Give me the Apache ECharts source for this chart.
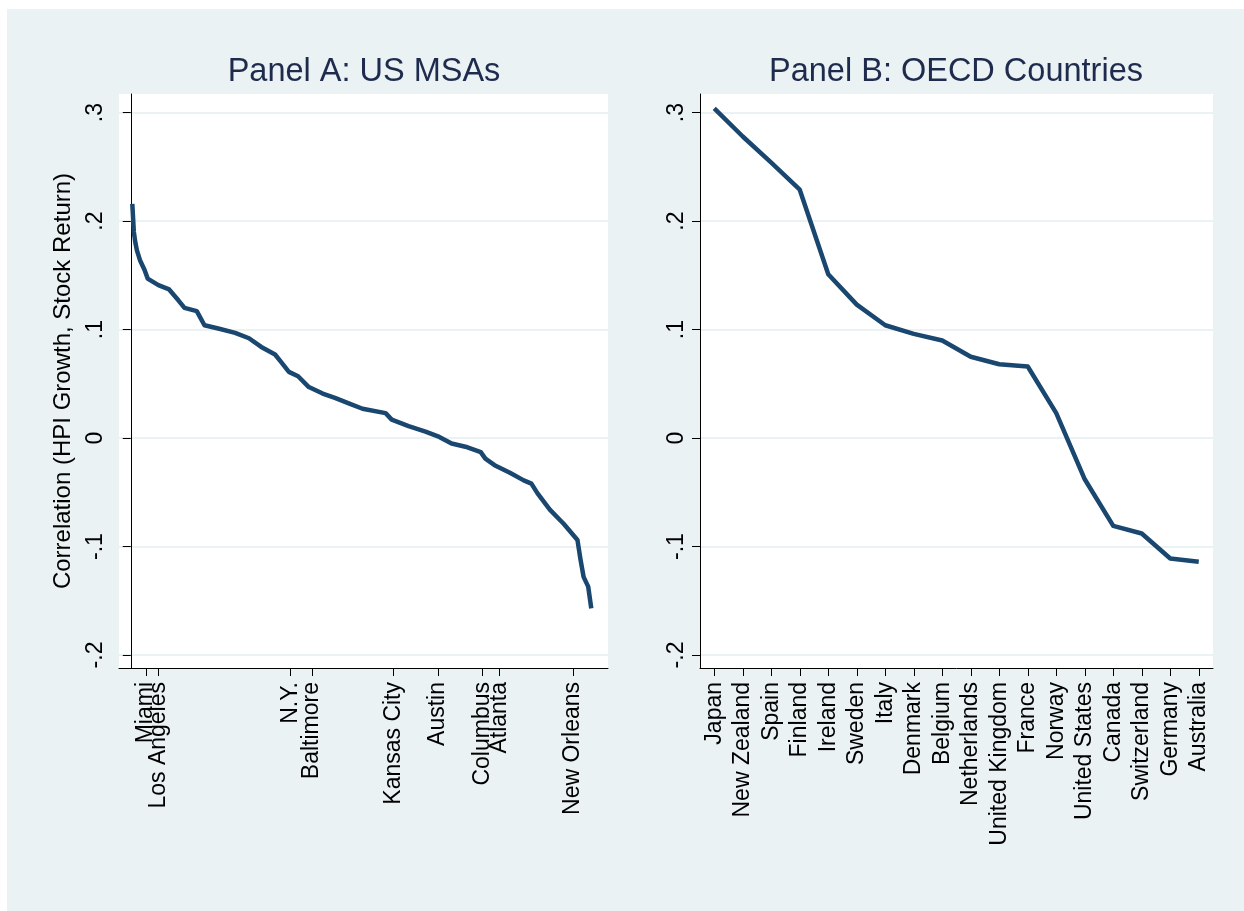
<!DOCTYPE html>
<html>
<head>
<meta charset="utf-8">
<script src="https://cdn.jsdelivr.net/npm/echarts@6/dist/echarts.min.js"></script>
<style>
  html, body { margin: 0; padding: 0; background: #ffffff; }
  #wrap { position: relative; width: 1244px; height: 911px; background: #ffffff; overflow: hidden; }
  #chart { position: absolute; left: 7px; top: 9px; width: 1237px; height: 902px; }
</style>
</head>
<body>
<div id="wrap"><div id="chart"></div></div>
<script>
// ---------- Data ----------
// Panel A: US MSAs, ranked by correlation (rank, correlation)
const msaRank = [1, 2, 3, 4, 6, 9, 11, 18, 25, 31, 35, 43, 48, 57, 68, 77, 85, 94, 98, 103, 109, 116, 125, 133, 142, 151, 166, 170, 181, 192, 201, 209, 218, 228, 231, 237, 247, 256, 261, 265, 273, 282, 291, 293, 295, 298, 300];
const msaCorr = [0.216, 0.190, 0.180, 0.173, 0.164, 0.155, 0.147, 0.141, 0.137, 0.127, 0.120, 0.117, 0.104, 0.101, 0.097, 0.092, 0.084, 0.077, 0.070, 0.061, 0.057, 0.047, 0.041, 0.037, 0.032, 0.027, 0.023, 0.017, 0.011, 0.006, 0.001, -0.005, -0.008, -0.013, -0.019, -0.025, -0.032, -0.039, -0.042, -0.051, -0.066, -0.079, -0.094, -0.112, -0.128, -0.137, -0.157];
// Labelled MSAs and their ranks
const cityNames = ['Miami', 'Los Angeles', 'N.Y.', 'Baltimore', 'Kansas City', 'Austin', 'Columbus', 'Atlanta', 'New Orleans'];
const cityRanks = [10, 18, 104, 118, 171, 200, 229, 240, 288];

// Panel B: OECD countries
const countries = ['Japan', 'New Zealand', 'Spain', 'Finland', 'Ireland', 'Sweden', 'Italy', 'Denmark', 'Belgium', 'Netherlands', 'United Kingdom', 'France', 'Norway', 'United States', 'Canada', 'Switzerland', 'Germany', 'Australia'];
const countryCorr = [0.304, 0.278, 0.254, 0.229, 0.151, 0.123, 0.104, 0.096, 0.090, 0.075, 0.068, 0.066, 0.023, -0.038, -0.081, -0.088, -0.111, -0.114];

// Y axis ticks
const yTicks = [-0.2, -0.1, 0, 0.1, 0.2, 0.3];

// ---------- Layout ----------
const OX = 7, OY = 9; // chart div offset
const FONT = '"Liberation Sans", Arial, Helvetica, sans-serif';
const BG = '#eaf2f3';
const LINE = '#1a476f';
const yMin = -0.212, yMax = 0.3172;
const xMinA = -7.67, xMaxA = 310.9;

function stataNum(v) {
  if (Math.abs(v) < 1e-9) return '0';
  return v.toFixed(1).replace('0.', '.');
}
const cityMap = {};
cityRanks.forEach((r, i) => { cityMap[r] = cityNames[i]; });
// first labelled city drawn on its own axis so it is not dropped as an overlapping label
const firstCity = [cityRanks[0]];
const otherCities = cityRanks.slice(1);

function yAxisCfg(gridIndex, withName) {
  return {
    type: 'value', gridIndex: gridIndex, min: yMin, max: yMax,
    name: withName ? 'Correlation (HPI Growth, Stock Return)' : '',
    nameLocation: 'middle', nameGap: 44, nameRotate: 90,
    nameTextStyle: { fontFamily: FONT, fontSize: 24, color: '#000' },
    axisLine: { show: true, lineStyle: { color: '#000', width: 1 } },
    axisTick: { show: true, length: 8, customValues: yTicks, lineStyle: { color: '#000', width: 1 } },
    axisLabel: { show: true, customValues: yTicks, rotate: 90, margin: 12, formatter: stataNum,
                 fontFamily: FONT, fontSize: 23, color: '#000' },
    splitLine: { show: true, lineStyle: { color: BG, width: 2 } }
  };
}

function cityAxis(values, showLine) {
  return {
    type: 'value', gridIndex: 0, min: xMinA, max: xMaxA, position: 'bottom',
    axisLine: { show: showLine, onZero: false, lineStyle: { color: '#000', width: 1 } },
    axisTick: { show: true, length: 8, customValues: values, lineStyle: { color: '#000', width: 1 } },
    axisLabel: { show: true, customValues: values, rotate: 90, margin: 14, hideOverlap: false,
                 showMinLabel: true, showMaxLabel: true,
                 formatter: v => cityMap[Math.round(v)] || '',
                 fontFamily: FONT, fontSize: 23, color: '#000' },
    splitLine: { show: false }
  };
}

const option = {
  backgroundColor: BG,
  animation: false,
  title: [
    { text: 'Panel A: US MSAs', left: 359 - OX, top: 51 - OY, textAlign: 'center',
      textStyle: { fontFamily: FONT, fontSize: 32.5, fontWeight: 'normal', color: '#1e2b4d' } },
    { text: 'Panel B: OECD Countries', left: 951 - OX, top: 51 - OY, textAlign: 'center',
      textStyle: { fontFamily: FONT, fontSize: 32.5, fontWeight: 'normal', color: '#1e2b4d' } }
  ],
  grid: [
    { left: 119 - OX, top: 94 - OY, width: 489, height: 574, show: true, backgroundColor: '#ffffff', borderWidth: 0, containLabel: false },
    { left: 700 - OX, top: 94 - OY, width: 513, height: 574, show: true, backgroundColor: '#ffffff', borderWidth: 0, containLabel: false }
  ],
  xAxis: [
    cityAxis(otherCities, true),
    {
      type: 'category', gridIndex: 1, data: countries, boundaryGap: true,
      axisLine: { show: true, onZero: false, lineStyle: { color: '#000', width: 1 } },
      axisTick: { show: true, length: 8, alignWithLabel: true, interval: 0, lineStyle: { color: '#000', width: 1 } },
      axisLabel: { show: true, interval: 0, rotate: 90, margin: 14, hideOverlap: false,
                   fontFamily: FONT, fontSize: 23, color: '#000' },
      splitLine: { show: false }
    },
    cityAxis(firstCity, false)
  ],
  yAxis: [ yAxisCfg(0, true), yAxisCfg(1, false) ],
  series: [
    {
      type: 'line', xAxisIndex: 0, yAxisIndex: 0, showSymbol: false, symbol: 'none',
      data: msaRank.map((r, i) => [r, msaCorr[i]]),
      lineStyle: { color: LINE, width: 4.5, join: 'round' }
    },
    {
      type: 'line', xAxisIndex: 1, yAxisIndex: 1, showSymbol: false, symbol: 'none',
      data: countryCorr,
      lineStyle: { color: LINE, width: 4.5, join: 'round' }
    }
  ]
};

const chart = echarts.init(document.getElementById('chart'), null, { renderer: 'canvas' });
chart.setOption(option);
</script>
</body>
</html>
